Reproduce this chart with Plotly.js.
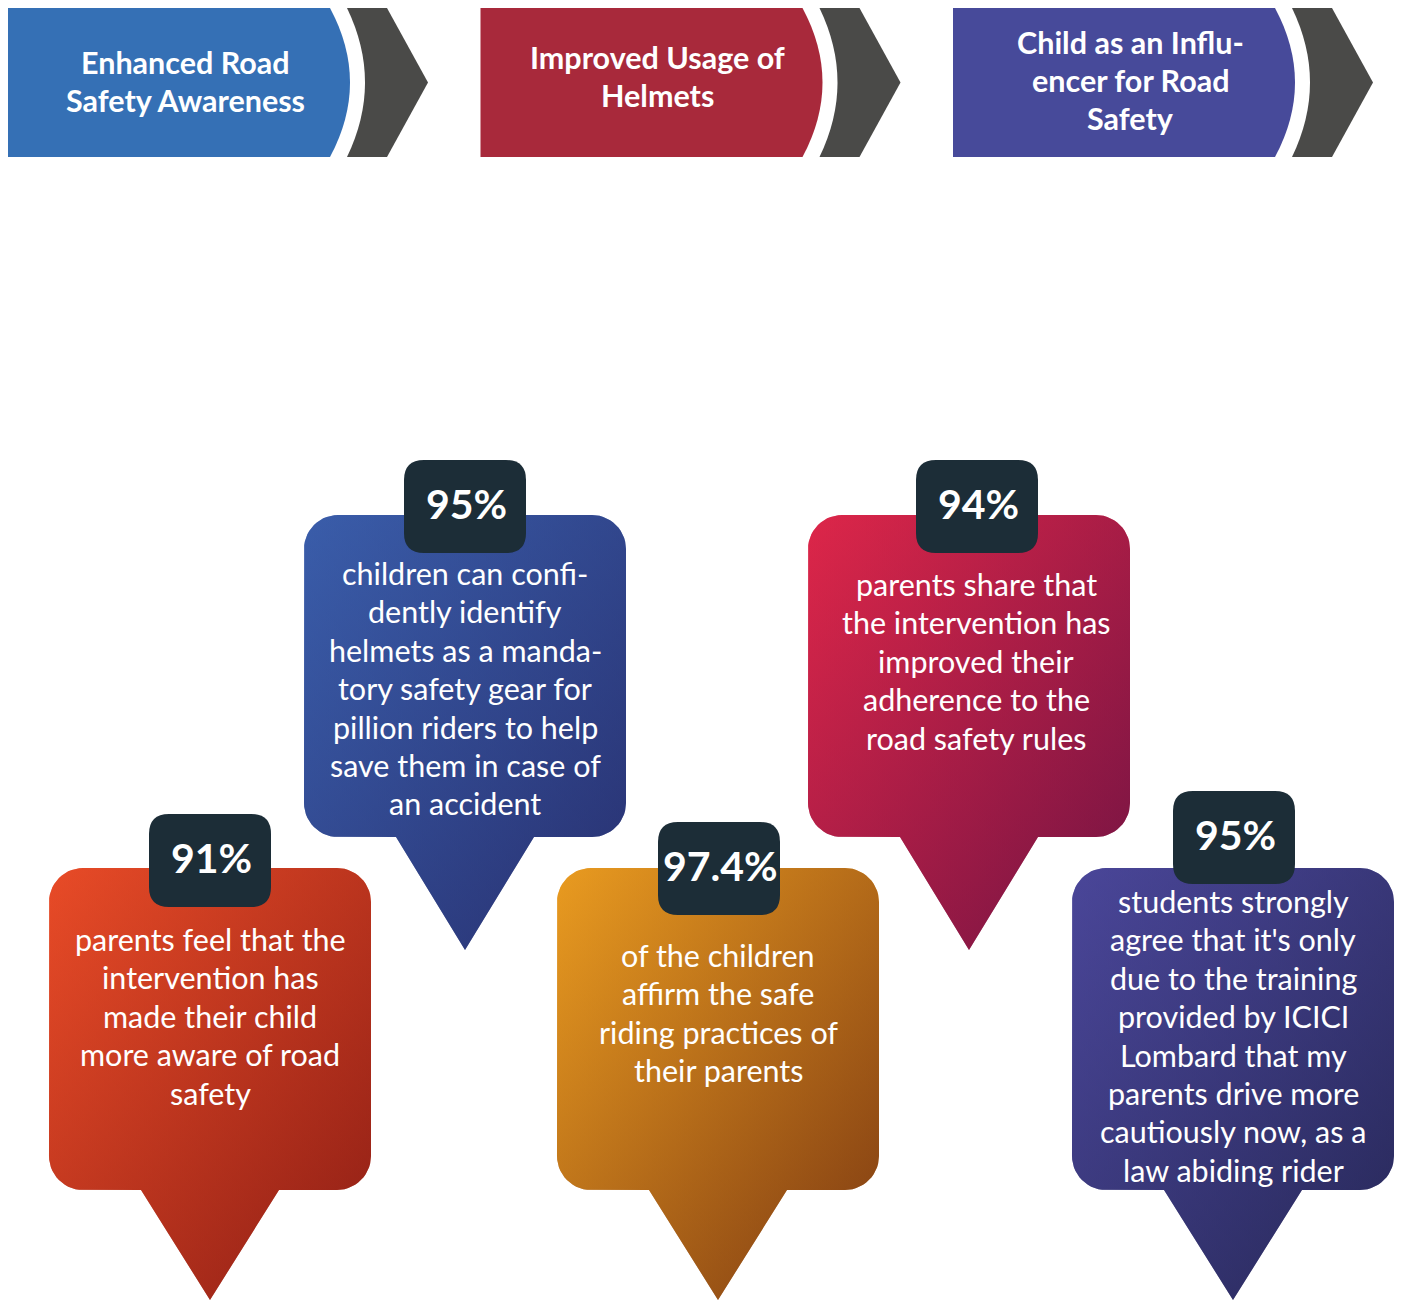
<!DOCTYPE html>
<html>
<head>
<meta charset="utf-8">
<script src="https://cdn.plot.ly/plotly-3.0.1.min.js"></script>
<style>html,body{margin:0;padding:0;background:#fff;}#chart{width:1403px;height:1302px;}</style>
</head>
<body>
<div id="chart"></div>
<script>
// ---- DATA ----
const bannerTitles = [
  ["Enhanced Road", "Safety Awareness"],
  ["Improved Usage of", "Helmets"],
  ["Child as an Influ-", "encer for Road", "Safety"]
];
const bannerColors = ["#3570B5", "#A8293B", "#474A9A"];

const percentages = ["91%", "95%", "97.4%", "94%", "95%"];
const descriptions = [
  ["parents feel that the", "intervention has", "made their child", "more aware of road", "safety"],
  ["children can confi-", "dently identify", "helmets as a manda-", "tory safety gear for", "pillion riders to help", "save them in case of", "an accident"],
  ["of the children", "affirm the safe", "riding practices of", "their parents"],
  ["parents share that", "the intervention has", "improved their", "adherence to the", "road safety rules"],
  ["students strongly", "agree that it's only", "due to the training", "provided by ICICI", "Lombard that my", "parents drive more", "cautiously now, as a", "law abiding rider"]
];
const bubbleTopColors = ["#E84B27", "#3A5DAA", "#E99B20", "#DD2649", "#4A4699"];
const bubbleBottomColors = ["#8E1E15", "#283070", "#7E3A12", "#721343", "#272858"];

// ---- LAYOUT GEOMETRY (positions only) ----
const W = 1403, H = 1302;
const bannerStep = 472.5;
const bannerFirstLineY = [62, 57, 42];
const bannerLineGap = 38.2;
const bubbleLeft = [49, 304, 557, 808, 1072];
const bubbleTop = [868, 515, 868, 515, 868];
const pinLens = [110, 113, 110, 113, 110];
const bubbleW = 322, bubbleH = 322, bubbleR = 34, pinHalf = 69;
const badgeLeft = [149, 404, 658, 916, 1173];
const badgeTop = [814, 460, 822, 460, 791];
const badgeW = 122, badgeH = 93, badgeR = 20;
const textFirstLineY = [939, 573, 955, 584, 901];
const textCenterX = [210, 465, 718, 976, 1233];
const lineGap = 38.4;

function hexToRgba(hex, a) {
  const n = parseInt(hex.slice(1), 16);
  return `rgba(${(n >> 16) & 255},${(n >> 8) & 255},${n & 255},${a})`;
}

function pinOutline(x0, y0, pinLen) {
  const xs = [], ys = [];
  const w = bubbleW, h = bubbleH, r = bubbleR;
  const cx = x0 + w / 2;
  function arc(ccx, ccy, a0, a1) {
    const n = 14;
    for (let i = 0; i <= n; i++) {
      const a = (a0 + (a1 - a0) * i / n) * Math.PI / 180;
      xs.push(ccx + r * Math.cos(a)); ys.push(ccy + r * Math.sin(a));
    }
  }
  arc(x0 + w - r, y0 + r, -90, 0);
  arc(x0 + w - r, y0 + h - r, 0, 90);
  xs.push(cx + pinHalf); ys.push(y0 + h);
  xs.push(cx); ys.push(y0 + h + pinLen);
  xs.push(cx - pinHalf); ys.push(y0 + h);
  arc(x0 + r, y0 + h - r, 90, 180);
  arc(x0 + r, y0 + r, 180, 270);
  xs.push(xs[0]); ys.push(ys[0]);
  return {xs, ys};
}

function roundRectPath(x0, y0, x1, y1, r) {
  return `M${x0 + r},${y0} L${x1 - r},${y0} Q${x1},${y0} ${x1},${y0 + r} L${x1},${y1 - r} Q${x1},${y1} ${x1 - r},${y1} L${x0 + r},${y1} Q${x0},${y1} ${x0},${y1 - r} L${x0},${y0 + r} Q${x0},${y0} ${x0 + r},${y0} Z`;
}

const FONT = 'Lato, "Open Sans", sans-serif';
const traces = [];
const shapes = [];
const annotations = [];

// Banners
bannerTitles.forEach((lines, i) => {
  const o = i * bannerStep;
  const top = 8, bot = 157, mid = 82.5;
  shapes.push({type: 'path', layer: 'below', line: {width: 0}, fillcolor: '#4A4A48',
    path: `M${300 + o},${top} L${387 + o},${top} L${428 + o},${mid} L${387 + o},${bot} L${300 + o},${bot} Z`});
  shapes.push({type: 'path', layer: 'below', line: {width: 0}, fillcolor: '#FFFFFF',
    path: `M${300 + o},${top} L${347 + o},${top} Q${383 + o},${mid} ${347 + o},${bot} L${300 + o},${bot} Z`});
  shapes.push({type: 'path', layer: 'below', line: {width: 0}, fillcolor: bannerColors[i],
    path: `M${8 + o},${top} L${330 + o},${top} Q${370 + o},${mid} ${330 + o},${bot} L${8 + o},${bot} Z`});
  lines.forEach((ln, k) => {
    annotations.push({x: 185 + o, y: bannerFirstLineY[i] + k * bannerLineGap, xref: 'x', yref: 'y', text: ln,
      showarrow: false, xanchor: 'center', yanchor: 'middle',
      font: {family: FONT, size: 30.5, color: '#FFFFFF', weight: 'bold'}});
  });
});

// Pins
percentages.forEach((p, i) => {
  const o = pinOutline(bubbleLeft[i], bubbleTop[i], pinLens[i]);
  traces.push({type: 'scatter', mode: 'lines', x: o.xs, y: o.ys, fill: 'toself',
    line: {width: 0, color: 'rgba(0,0,0,0)'}, hoverinfo: 'skip', showlegend: false,
    fillgradient: {type: 'vertical', colorscale: [[0, bubbleTopColors[i]], [1, bubbleBottomColors[i]]],
      start: bubbleTop[i], stop: bubbleTop[i] + bubbleH + pinLens[i]}});
  traces.push({type: 'scatter', mode: 'lines', x: o.xs, y: o.ys, fill: 'toself',
    line: {width: 0, color: 'rgba(0,0,0,0)'}, hoverinfo: 'skip', showlegend: false,
    fillgradient: {type: 'horizontal',
      colorscale: [[0, hexToRgba(bubbleTopColors[i], 0.5)], [1, hexToRgba(bubbleBottomColors[i], 0.5)]],
      start: bubbleLeft[i], stop: bubbleLeft[i] + bubbleW}});
  shapes.push({type: 'path', layer: 'above', line: {width: 0}, fillcolor: '#1C2D37',
    path: roundRectPath(badgeLeft[i], badgeTop[i], badgeLeft[i] + badgeW, badgeTop[i] + badgeH, badgeR)});
  annotations.push({x: badgeLeft[i] + badgeW / 2 + 1, y: badgeTop[i] + badgeH / 2 - 3, xref: 'x', yref: 'y',
    text: p, showarrow: false, xanchor: 'center', yanchor: 'middle',
    font: {family: FONT, size: 41, color: '#FFFFFF', weight: 'bold'}});
  descriptions[i].forEach((ln, k) => {
    annotations.push({x: textCenterX[i], y: textFirstLineY[i] + k * lineGap, xref: 'x', yref: 'y',
      text: ln, showarrow: false, xanchor: 'center', yanchor: 'middle',
      font: {family: FONT, size: 30.5, color: '#FFFFFF'}});
  });
});

const layout = {
  width: W, height: H,
  margin: {l: 0, r: 0, t: 0, b: 0},
  paper_bgcolor: '#FFFFFF', plot_bgcolor: '#FFFFFF',
  xaxis: {range: [0, W], visible: false, fixedrange: true},
  yaxis: {range: [H, 0], visible: false, fixedrange: true},
  shapes: shapes, annotations: annotations, showlegend: false, hovermode: false
};

Plotly.newPlot('chart', traces, layout, {displayModeBar: false, staticPlot: true});
</script>
</body>
</html>
